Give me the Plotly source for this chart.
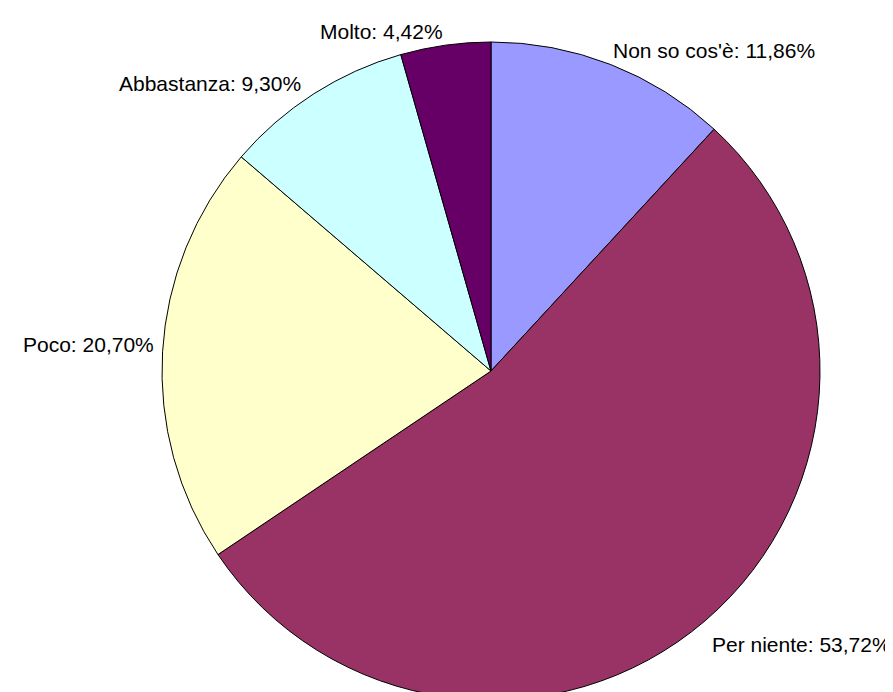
import plotly.graph_objects as go

labels = ["Non so cos'è", "Per niente", "Poco", "Abbastanza", "Molto"]
values = [11.86, 53.72, 20.70, 9.30, 4.42]
colors = ["#9999FF", "#993366", "#FFFFCC", "#CCFFFF", "#660066"]

W, H = 893, 692
cx, cy, r = 483, 363, 329

fig = go.Figure(go.Pie(
    labels=labels,
    values=values,
    sort=False,
    direction="clockwise",
    rotation=0,
    marker=dict(colors=colors, line=dict(color="black", width=1)),
    textinfo="none",
    showlegend=False,
    hoverinfo="label+percent",
    domain=dict(x=[(cx - r) / W, (cx + r) / W], y=[1 - (cy + r) / H, 1 - (cy - r) / H]),
))

# label placement (pixel anchors): x, y of text centre-line, horizontal anchor
label_pos = {
    "Non so cos'è": (603, 43, "left"),
    "Per niente": (702, 636, "left"),
    "Poco": (148, 337, "right"),
    "Abbastanza": (295, 75, "right"),
    "Molto": (437, 23, "right"),
}

total = sum(values)
for lab, val in zip(labels, values):
    px, py, anchor = label_pos[lab]
    pct = f"{100 * val / total:.2f}".replace(".", ",")
    fig.add_annotation(
        x=px / W, y=1 - py / H, xref="paper", yref="paper",
        text=f"{lab}: {pct}%", showarrow=False,
        xanchor=anchor, yanchor="middle",
        font=dict(family="Liberation Sans, Arial, sans-serif", size=21, color="black"),
    )

fig.update_layout(
    width=W, height=H,
    margin=dict(l=0, r=0, t=0, b=0),
    paper_bgcolor="white",
    plot_bgcolor="white",
)

fig.write_html("out.html")
